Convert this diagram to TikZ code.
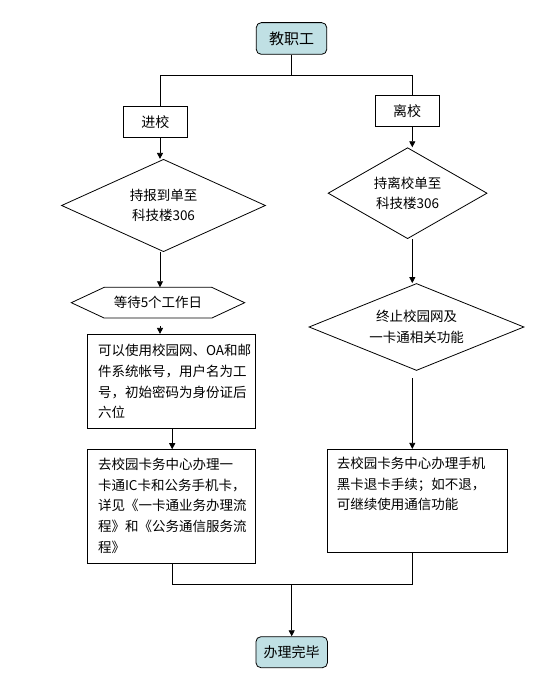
\documentclass[tikz,border=0pt]{standalone}
\usepackage{fontspec}
\usepackage{tikz}
\usetikzlibrary{shapes.geometric,arrows.meta}
\newfontfamily\cjk{Noto Sans CJK SC}
\definecolor{tealfill}{RGB}{192,224,228}

\begin{document}
\begin{tikzpicture}[x=1pt,y=1pt,
        font=\cjk\fontsize{13.5}{20.7}\selectfont,
        line width=0.8pt,
        term/.style={draw=black,fill=tealfill,rounded corners=5pt,inner sep=0pt},
        box/.style={draw=black,inner sep=0pt},
        cond/.style={shape=diamond,draw=black,inner sep=0pt,aspect=2.2,align=center},
        txt/.style={anchor=north west,inner sep=0pt,align=left},
        arr/.style={-{Triangle[length=6pt,width=6pt]}}]

        \useasboundingbox (0,0) rectangle (545,680);

        \node[term,minimum width=70.5pt,minimum height=31.7pt,font=\cjk\fontsize{15}{18}\selectfont] (a) at (291.5, 641.5) {教职工};
        \node[box,minimum width=64pt,minimum height=31pt,font=\cjk\fontsize{14}{17}\selectfont] (b) at (155.4, 558.2) {进校};
        \node[box,minimum width=64pt,minimum height=31pt,font=\cjk\fontsize{14}{17}\selectfont] (c) at (407.1, 568.8) {离校};
        \node[cond,minimum width=204pt,minimum height=92.4pt] (d) at (163.5, 474.5) {持报到单至\\科技楼306};
        \node[minimum width=172.6pt,minimum height=30pt,inner sep=0pt] (e) at (158, 377.3) {等待5个工作日};
        \node[box,minimum width=168pt,minimum height=94pt] (f) at (171, 298.7) {};
        \node[box,minimum width=168pt,minimum height=113.7pt] (g) at (171, 173.5) {};
        \node[cond,minimum width=159pt,minimum height=91pt] (h) at (407.6, 486.8) {持离校单至\\科技楼306};
        \node[cond,minimum width=215pt,minimum height=87pt] (i) at (416.5, 353) {终止校园网及\\一卡通相关功能};
        \node[box,minimum width=180.4pt,minimum height=103.4pt] (j) at (417.5, 179) {};
        \node[term,minimum width=71.5pt,minimum height=31pt,font=\cjk\fontsize{14}{17}\selectfont] (k) at (291.7, 27.8) {办理完毕};

        % hexagon round the waiting step
        \draw (e.west) -- ([xshift=33pt]e.north west) -- ([xshift=-33pt]e.north east) -- (e.east)
              -- ([xshift=-33pt]e.south east) -- ([xshift=33pt]e.south west) -- cycle;

        \node[txt] (f1) at ([shift={(11pt,-10pt)}]f.north west) {可以使用校园网、OA和邮\\件系统帐号，用户名为工\\号，初始密码为身份证后\\六位};
        \node[txt] (g1) at ([shift={(11pt,-8.3pt)}]g.north west) {去校园卡务中心办理一\\卡通IC卡和公务手机卡，\\详见《一卡通业务办理流\\程》和《公务通信服务流\\程》};
        \node[txt] (j1) at ([shift={(9.5pt,-7.7pt)}]j.north west) {去校园卡务中心办理手机\\黑卡退卡手续；如不退，\\可继续使用通信功能};

        \coordinate (l) at (160, 0);
        \coordinate (m) at (172.2, 0);
        \coordinate (r) at (412.3, 0);
        \coordinate (s) at (291.5, 604.7);
        \coordinate (t) at (291.7, 95.7);

        \draw (a) -- (s);
        \draw (l |- b.north) |- (s) -| (r |- c.north);
        \path[arr] (l |- b.south) edge (l |- d.north);
        \path[arr] (l |- d.south) edge (l |- e.north);
        \path[arr,shorten <=8pt] (l |- e.south) edge (l |- f.north);
        \path[arr] (m |- f.south) edge (m |- g.north);
        \path[arr] (r |- c.south) edge (r |- h.north);
        \path[arr] (r |- h.south) edge (r |- i.north);
        \path[arr,shorten <=7.5pt] (r |- i.south) edge (r |- j.north);
        \draw (m |- g.south) |- (t) -| (r |- j.south);
        \path[arr] (t) edge (k);

\end{tikzpicture}
\end{document}
